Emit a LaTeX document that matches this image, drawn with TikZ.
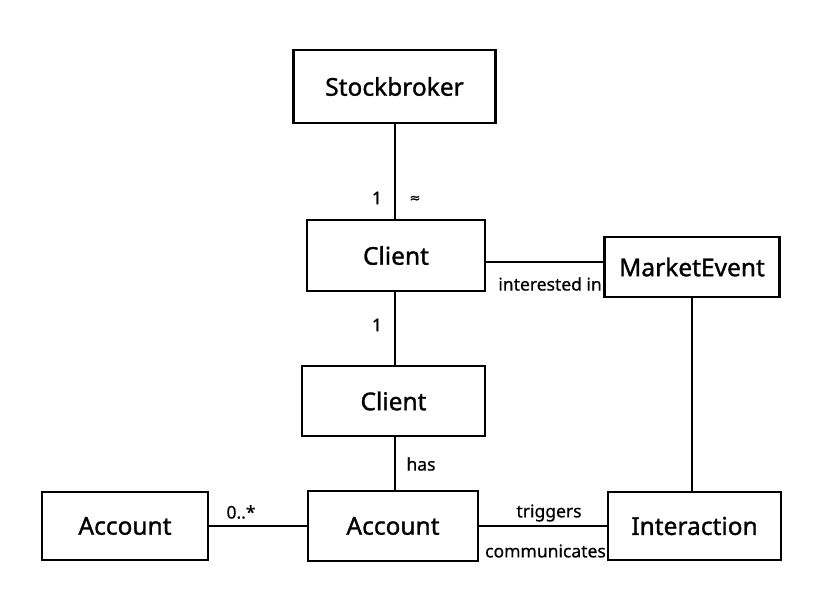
\documentclass[tikz,border=0pt]{standalone}
\usepackage{fontspec}
\setmainfont{Noto Sans}
\newfontfamily\boxfont[FakeBold=1.2]{Noto Sans}
\newfontfamily\labfont[FakeBold=0.6]{Noto Sans}
\newfontfamily\symfont[FakeBold=1]{DejaVu Sans}
\begin{document}
\begin{tikzpicture}[x=1pt,y=-1pt,
  cls/.style={draw=black,line width=2.4pt,fill=white,font=\boxfont\fontsize{24.5}{28}\selectfont,inner sep=0pt},
  lbl/.style={font=\labfont\fontsize{17.5}{21}\selectfont,inner sep=0pt},
  conn/.style={draw=black,line width=2pt}]
\useasboundingbox (0,0) rectangle (820,612);
\fill[white] (0,0) rectangle (820,612);
% classes
\node[cls,minimum width=202pt,minimum height=73pt] (sb) at (394.5,86.5) {Stockbroker};
\node[cls,minimum width=178pt,minimum height=71pt] (c1) at (396,255.5) {Client};
\node[cls,minimum width=183pt,minimum height=70pt] (c2) at (393.5,401) {Client};
\node[cls,minimum width=175pt,minimum height=60pt] (me) at (692,267) {MarketEvent};
\node[cls,minimum width=166pt,minimum height=68pt] (a1) at (125,526) {Account};
\node[cls,minimum width=170pt,minimum height=70pt] (a2) at (393,526) {Account};
\node[cls,minimum width=173pt,minimum height=68pt] (ia) at (694.5,526) {Interaction};
% connector anchor points
\coordinate (y1) at (0,262);
\coordinate (vx) at (395,0);
% connectors
\draw[conn] (sb.south -| vx) -- (c1.north -| vx);
\draw[conn] (c1.south -| vx) -- (c2.north -| vx);
\draw[conn] (c2.south -| vx) -- (a2.north -| vx);
\draw[conn] (c1.east |- y1) -- (me.west |- y1);
\draw[conn] (me.south) -- (me.south |- ia.north);
\draw[conn] (a1.east) -- (a2.west);
\draw[conn] (a2.east) -- (ia.west);
% labels
\node[lbl] (l1) at (377,198) {1};
\node[lbl,font=\symfont\fontsize{13}{15}\selectfont] (l2) at (415,199) {≈};
\node[lbl] (l3) at (377,325) {1};
\node[lbl] (l4) at (421,464) {has};
\node[lbl,anchor=east] (l5) at (602,284) {interested in};
\node[lbl] (l6) at (241,512) {0..*};
\node[lbl] (l7) at (549,513) {triggers};
\node[lbl,anchor=east] (l8) at (606,551) {communicates};
\end{tikzpicture}
\end{document}
